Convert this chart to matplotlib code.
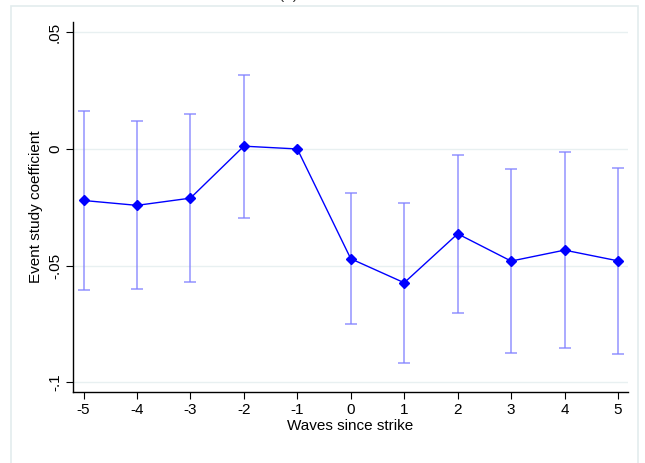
#!/usr/bin/python3

import matplotlib.pyplot as plt
from matplotlib.patches import Rectangle

plt.rcParams['font.family'] = ['Liberation Sans', 'DejaVu Sans']

# event study estimates
waves = [-5, -4, -3, -2, -1, 0, 1, 2, 3, 4, 5]
coef = [-0.0221, -0.0242, -0.0211, 0.0012, 0.0, -0.0471, -0.0574, -0.0364, -0.0481, -0.0434, -0.0480]
ci_hi = [0.0161, 0.0118, 0.0148, 0.0317, None, -0.0189, -0.0232, -0.0024, -0.0087, -0.0011, -0.0080]
ci_lo = [-0.0603, -0.0600, -0.0570, -0.0295, None, -0.0752, -0.0918, -0.0703, -0.0875, -0.0854, -0.0878]
yticks = [0.05, 0.0, -0.05, -0.1]
ytick_labels = ['.05', '0', '-.05', '-.1']


def main():
    fig = plt.figure(figsize=(6.45, 4.63), dpi=100)
    fig.patch.set_facecolor('white')

    # light frame around the plot region (Stata style)
    fig.patches.append(Rectangle((11 / 645, -0.05), (638 - 11) / 645, 1.05 - 6 / 463,
                                 transform=fig.transFigure, fill=False,
                                 edgecolor='#e3ecee', linewidth=1.2))
    # panel title, cut off at the top
    fig.text(288 / 645, 1.0 + 5 / 463, '(a)', ha='center', va='center',
             fontsize=11, color='#333333')

    ax = fig.add_axes([73.2 / 645, 1 - 392.3 / 463, (628 - 73.2) / 645, (392.3 - 21.7) / 463])

    # confidence intervals
    for x, hi, lo in zip(waves, ci_hi, ci_lo):
        if hi is None:
            continue
        ax.errorbar([x], [(hi + lo) / 2], yerr=[[(hi - lo) / 2], [(hi - lo) / 2]],
                    fmt='none', ecolor='#8080ff', elinewidth=1.1, capsize=4,
                    capthick=1.1, alpha=0.85, zorder=2)

    ax.plot(waves, coef, '-D', color='#0000ff', linewidth=1, markersize=5, zorder=3)

    ax.set_xlim(-5.193, 5.187)
    ax.set_ylim(-0.1044, 0.0546)
    ax.set_xticks(waves)
    ax.set_xticklabels([str(w) for w in waves])
    ax.set_yticks(yticks)
    ax.set_yticklabels(ytick_labels, rotation=90, va='center')
    ax.grid(axis='y', color='#e8f0f1', linewidth=1)
    ax.set_axisbelow(True)

    for s in ['top', 'right']:
        ax.spines[s].set_visible(False)
    for s in ['left', 'bottom']:
        ax.spines[s].set_linewidth(1)
        ax.spines[s].set_color('black')
    ax.tick_params(direction='out', length=5, width=0.8, labelsize=11, pad=3)

    ax.set_xlabel('Waves since strike', fontsize=11, labelpad=1)
    ax.set_ylabel('Event study coefficient', fontsize=11, labelpad=4)

    plt.savefig('out.png', dpi=100)
    plt.close('all')


if __name__ == "__main__":
    main()
